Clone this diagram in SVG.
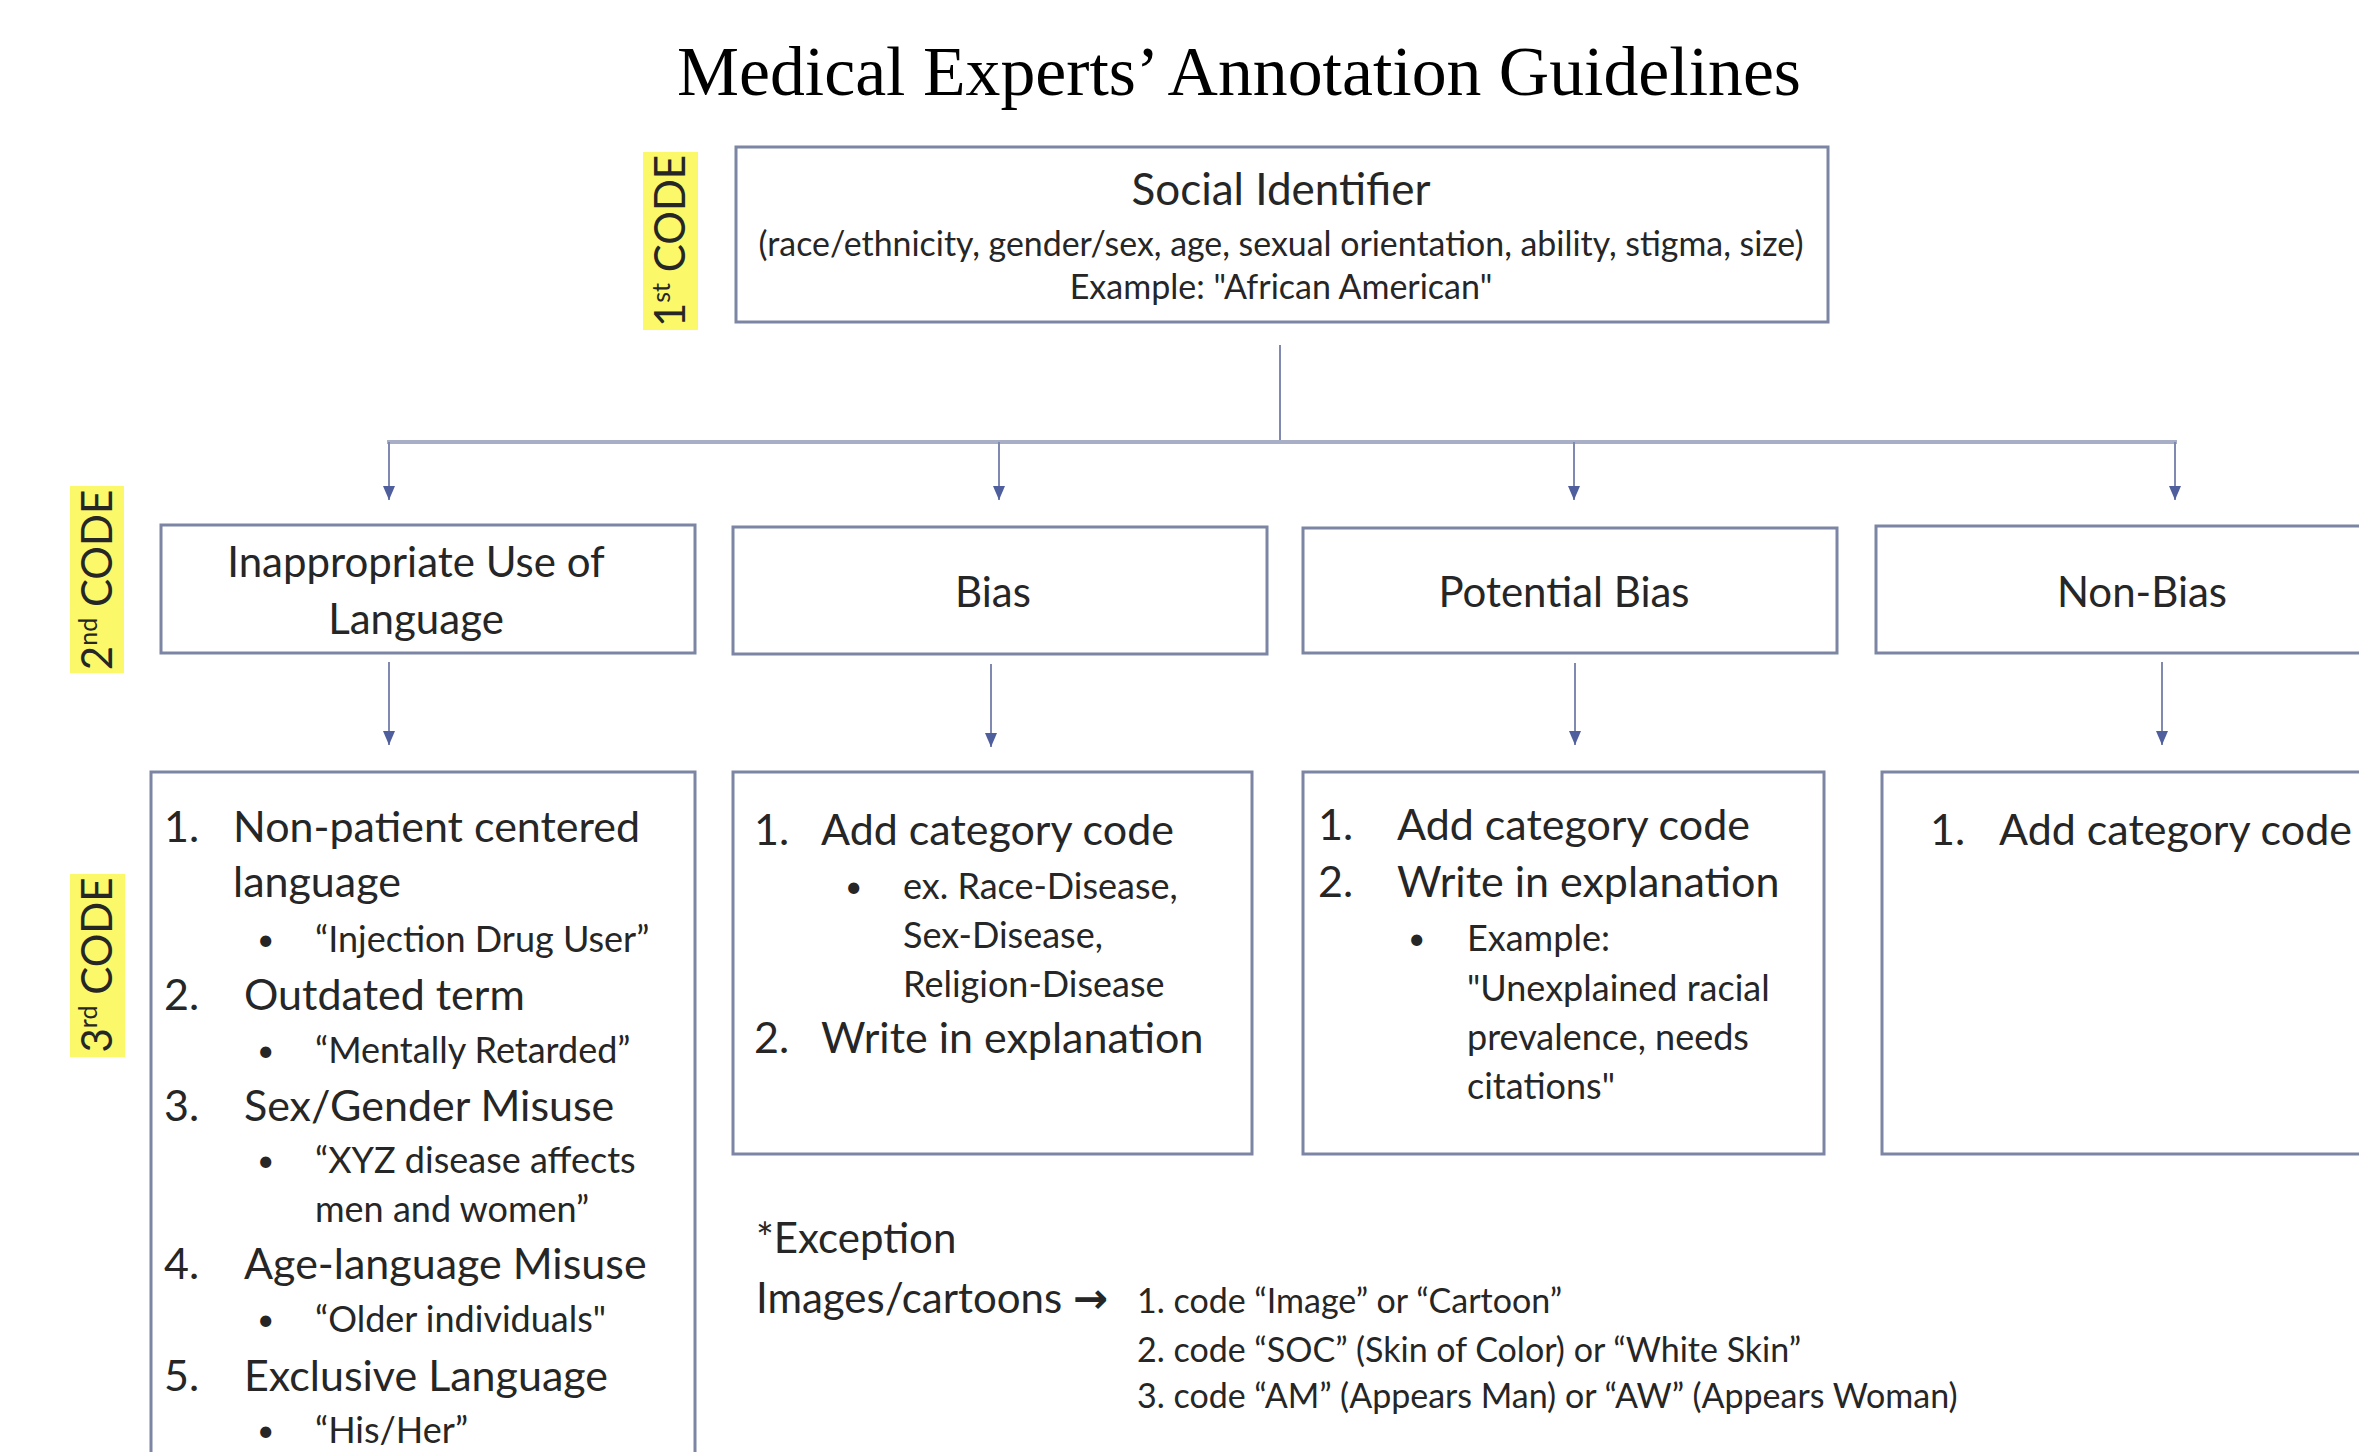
<svg xmlns="http://www.w3.org/2000/svg" width="2359" height="1452" viewBox="0 0 2359 1452">
<style>
.bx{fill:#ffffff;stroke:#7c85a3;stroke-width:3}
.t{font-family:Lato,"Open Sans","DejaVu Sans",sans-serif;fill:#262626}
.l1{font-size:44px}
.l2{font-size:42px}
.m{font-size:43px}
.s{font-size:36px}
.b{font-size:30px}
.x{font-size:34px}
.c{text-anchor:middle}
.hl{fill:#fbf86a}
.cn{fill:none;stroke:#8089b0;stroke-width:2}
.bar{fill:none;stroke:#a7aec6;stroke-width:4}
</style>
<defs>
<marker id="ah" viewBox="0 0 14 12" refX="14" refY="6" markerWidth="14" markerHeight="12" markerUnits="userSpaceOnUse" orient="auto">
<path d="M0,0 L14,6 L0,12 Z" fill="#4f5e9c"/>
</marker>
</defs>
<rect x="0" y="0" width="2359" height="1452" fill="#ffffff"/>

<text id="title" x="1239" y="95" text-anchor="middle" font-family="'Liberation Serif','DejaVu Serif',serif" font-size="69" textLength="1124" lengthAdjust="spacingAndGlyphs" fill="#000">Medical Experts’ Annotation Guidelines</text>

<g id="code-labels">
<rect class="hl" x="643" y="152" width="55" height="178"/>
<text class="t l2 c" transform="translate(685,241) rotate(-90)" x="0" y="0">1<tspan font-size="25" baseline-shift="super">st</tspan> CODE</text>
<rect class="hl" x="70" y="486" width="54" height="187"/>
<text class="t l2 c" transform="translate(112,580) rotate(-90)" x="0" y="0">2<tspan font-size="25" baseline-shift="super">nd</tspan> CODE</text>
<rect class="hl" x="70" y="874" width="55" height="183"/>
<text class="t l2 c" transform="translate(112,965) rotate(-90)" x="0" y="0">3<tspan font-size="25" baseline-shift="super">rd</tspan> CODE</text>
</g>

<g id="connectors">
<line class="cn" x1="1280" y1="345" x2="1280" y2="442"/>
<line class="bar" x1="387" y1="442" x2="2177" y2="442"/>
<line class="cn" x1="389" y1="442" x2="389" y2="500" marker-end="url(#ah)"/>
<line class="cn" x1="999" y1="442" x2="999" y2="500" marker-end="url(#ah)"/>
<line class="cn" x1="1574" y1="442" x2="1574" y2="500" marker-end="url(#ah)"/>
<line class="cn" x1="2175" y1="442" x2="2175" y2="500" marker-end="url(#ah)"/>
<line class="cn" x1="389" y1="662" x2="389" y2="745" marker-end="url(#ah)"/>
<line class="cn" x1="991" y1="664" x2="991" y2="747" marker-end="url(#ah)"/>
<line class="cn" x1="1575" y1="663" x2="1575" y2="745" marker-end="url(#ah)"/>
<line class="cn" x1="2162" y1="662" x2="2162" y2="745" marker-end="url(#ah)"/>
</g>

<g id="social-identifier">
<rect class="bx" x="736" y="147" width="1092" height="175"/>
<text class="t l1 c" x="1281" y="205">Social Identifier</text>
<text class="t x c" x="1281" y="256" textLength="1045" lengthAdjust="spacingAndGlyphs">(race/ethnicity, gender/sex, age, sexual orientation, ability, stigma, size)</text>
<text class="t x c" x="1281" y="299">Example: "African American"</text>
</g>

<g id="inappropriate">
<rect class="bx" x="161" y="525" width="534" height="128"/>
<text class="t l2 c" x="416" y="577">Inappropriate Use of</text>
<text class="t l2 c" x="416" y="634">Language</text>
</g>

<g id="bias">
<rect class="bx" x="733" y="527" width="534" height="127"/>
<text class="t l2 c" x="993" y="607">Bias</text>
</g>

<g id="potential-bias">
<rect class="bx" x="1303" y="528" width="534" height="125"/>
<text class="t l2 c" x="1564" y="607">Potential Bias</text>
</g>

<g id="non-bias">
<rect class="bx" x="1876" y="526" width="520" height="127"/>
<text class="t l2 c" x="2142" y="607">Non-Bias</text>
</g>

<g id="inappropriate-codes">
<rect class="bx" x="151" y="772" width="544" height="720"/>
<text class="t m" x="164" y="842">1.</text><text class="t m" x="233" y="842">Non-patient centered</text>
<text class="t m" x="233" y="897">language</text>
<text class="t b" x="257" y="950">•</text><text class="t s" x="315" y="952">“Injection Drug User”</text>
<text class="t m" x="164" y="1010">2.</text><text class="t m" x="244" y="1010">Outdated term</text>
<text class="t b" x="257" y="1061">•</text><text class="t s" x="315" y="1063">“Mentally Retarded”</text>
<text class="t m" x="164" y="1121">3.</text><text class="t m" x="244" y="1121">Sex/Gender Misuse</text>
<text class="t b" x="257" y="1171">•</text><text class="t s" x="315" y="1173">“XYZ disease affects</text>
<text class="t s" x="315" y="1222">men and women”</text>
<text class="t m" x="164" y="1279">4.</text><text class="t m" x="244" y="1279">Age-language Misuse</text>
<text class="t b" x="257" y="1330">•</text><text class="t s" x="315" y="1332">“Older individuals"</text>
<text class="t m" x="164" y="1391">5.</text><text class="t m" x="244" y="1391">Exclusive Language</text>
<text class="t b" x="257" y="1441">•</text><text class="t s" x="315" y="1443">“His/Her”</text>
</g>

<g id="bias-codes">
<rect class="bx" x="733" y="772" width="519" height="382"/>
<text class="t m" x="754" y="845">1.</text><text class="t m" x="821" y="845">Add category code</text>
<text class="t b" x="845" y="897">•</text><text class="t s" x="903" y="899">ex. Race-Disease,</text>
<text class="t s" x="903" y="948">Sex-Disease,</text>
<text class="t s" x="903" y="997">Religion-Disease</text>
<text class="t m" x="754" y="1053">2.</text><text class="t m" x="821" y="1053">Write in explanation</text>
</g>

<g id="potential-bias-codes">
<rect class="bx" x="1303" y="772" width="521" height="382"/>
<text class="t m" x="1318" y="840">1.</text><text class="t m" x="1397" y="840">Add category code</text>
<text class="t m" x="1318" y="897">2.</text><text class="t m" x="1397" y="897">Write in explanation</text>
<text class="t b" x="1408" y="949">•</text><text class="t s" x="1467" y="951">Example:</text>
<text class="t s" x="1467" y="1001">"Unexplained racial</text>
<text class="t s" x="1467" y="1050">prevalence, needs</text>
<text class="t s" x="1467" y="1099">citations"</text>
</g>

<g id="non-bias-codes">
<rect class="bx" x="1882" y="772" width="520" height="382"/>
<text class="t m" x="1930" y="845">1.</text><text class="t m" x="1999" y="845">Add category code</text>
</g>

<g id="exception">
<text class="t l2" x="756" y="1253">*Exception</text>
<text class="t l2" x="756" y="1313">Images/cartoons <tspan font-family="'DejaVu Sans',sans-serif" font-weight="bold">→</tspan></text>
<text class="t x" x="1137" y="1313">1. code “Image” or “Cartoon”</text>
<text class="t x" x="1137" y="1362">2. code “SOC” (Skin of Color) or “White Skin”</text>
<text class="t x" x="1137" y="1408">3. code “AM” (Appears Man) or “AW” (Appears Woman)</text>
</g>
</svg>
